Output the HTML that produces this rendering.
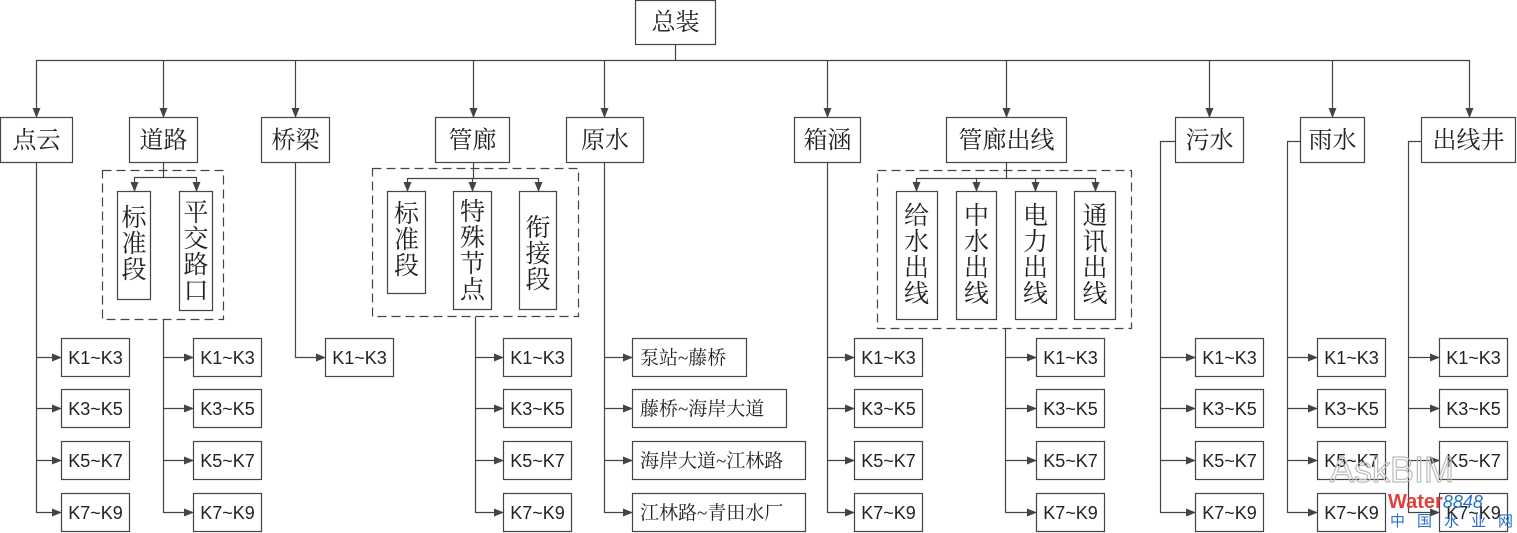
<!DOCTYPE html>
<html><head><meta charset="utf-8"><style>
html,body{margin:0;padding:0;background:#fff;}
svg{display:block;}
text{font-family:"Liberation Serif","Noto Serif CJK SC","Noto Sans CJK SC",serif;fill:#222;}
.k text{font-family:"Liberation Sans","Noto Sans CJK SC",sans-serif;font-size:18px;}
.t{font-size:24px;}
.v{font-size:25px;}
.r{font-size:19px;}
</style></head><body>
<svg width="1517" height="533" viewBox="0 0 1517 533" xmlns="http://www.w3.org/2000/svg">
<defs><marker id="a" markerWidth="10" markerHeight="10" refX="9" refY="5" orient="auto" markerUnits="userSpaceOnUse"><path d="M0,1 L10,5 L0,9 Z" fill="#444"/></marker></defs>
<g stroke="#444" stroke-width="1.2" fill="none">
<rect x="635.5" y="0.5" width="80" height="44" fill="#fff"/>
<line x1="675.5" y1="45" x2="675.5" y2="60.5"/>
<line x1="36.5" y1="60.5" x2="1469.5" y2="60.5"/>
<g marker-end="url(#a)">
<line x1="36.5" y1="60" x2="36.5" y2="117"/>
<line x1="163.5" y1="60" x2="163.5" y2="117"/>
<line x1="295.5" y1="60" x2="295.5" y2="117"/>
<line x1="473.5" y1="60" x2="473.5" y2="117"/>
<line x1="604.5" y1="60" x2="604.5" y2="117"/>
<line x1="827.5" y1="60" x2="827.5" y2="117"/>
<line x1="1006.5" y1="60" x2="1006.5" y2="117"/>
<line x1="1209.5" y1="60" x2="1209.5" y2="117"/>
<line x1="1332.5" y1="60" x2="1332.5" y2="117"/>
<line x1="1469.5" y1="60" x2="1469.5" y2="117"/>
</g>
<rect x="0.5" y="117.5" width="72" height="45"/>
<rect x="129.5" y="117.5" width="68" height="45"/>
<rect x="261.5" y="117.5" width="68" height="45"/>
<rect x="435.5" y="117.5" width="74" height="45"/>
<rect x="566.5" y="117.5" width="77" height="45"/>
<rect x="794.5" y="117.5" width="66" height="45"/>
<rect x="946.5" y="117.5" width="120" height="45"/>
<rect x="1175.5" y="117.5" width="68" height="45"/>
<rect x="1300.5" y="117.5" width="64" height="45"/>
<rect x="1421.5" y="117.5" width="94" height="45"/>
<g stroke-dasharray="9,5">
<rect x="102.5" y="170.5" width="121" height="149"/>
<rect x="372.5" y="168.5" width="206" height="148"/>
<rect x="877.5" y="170.5" width="254" height="158"/>
</g>
<line x1="163.5" y1="163" x2="163.5" y2="177.5"/>
<line x1="134.5" y1="177.5" x2="196.5" y2="177.5"/>
<g marker-end="url(#a)"><line x1="134.5" y1="177" x2="134.5" y2="191"/><line x1="196.5" y1="177" x2="196.5" y2="191"/></g>
<rect x="117.5" y="191.5" width="33" height="108"/>
<rect x="179.5" y="191.5" width="33" height="119"/>
<line x1="473.5" y1="163" x2="473.5" y2="178.5"/>
<line x1="407.5" y1="178.5" x2="538.5" y2="178.5"/>
<g marker-end="url(#a)"><line x1="407.5" y1="178" x2="407.5" y2="191"/><line x1="472.5" y1="178" x2="472.5" y2="191"/><line x1="538.5" y1="178" x2="538.5" y2="191"/></g>
<rect x="387.5" y="191.5" width="38" height="102"/>
<rect x="453.5" y="191.5" width="38" height="118"/>
<rect x="519.5" y="191.5" width="37" height="118"/>
<line x1="1006.5" y1="163" x2="1006.5" y2="178.5"/>
<line x1="916.5" y1="178.5" x2="1095.5" y2="178.5"/>
<g marker-end="url(#a)"><line x1="916.5" y1="178" x2="916.5" y2="191"/><line x1="976.5" y1="178" x2="976.5" y2="191"/><line x1="1035.5" y1="178" x2="1035.5" y2="191"/><line x1="1095.5" y1="178" x2="1095.5" y2="191"/></g>
<rect x="896.5" y="191.5" width="41" height="128"/>
<rect x="956.5" y="191.5" width="40" height="128"/>
<rect x="1015.5" y="191.5" width="41" height="128"/>
<rect x="1074.5" y="191.5" width="41" height="128"/>
<line x1="36.5" y1="163" x2="36.5" y2="512.5"/>
<line x1="163.5" y1="320" x2="163.5" y2="512.5"/>
<line x1="295.5" y1="163" x2="295.5" y2="357.5"/>
<line x1="475.5" y1="317" x2="475.5" y2="512.5"/>
<line x1="604.5" y1="163" x2="604.5" y2="512.5"/>
<line x1="827.5" y1="163" x2="827.5" y2="512.5"/>
<line x1="1005.5" y1="329" x2="1005.5" y2="512.5"/>
<polyline points="1175,141.5 1160.5,141.5 1160.5,512.5"/>
<polyline points="1300,141.5 1287.5,141.5 1287.5,512.5"/>
<polyline points="1421,141.5 1408.5,141.5 1408.5,512.5"/>
<g marker-end="url(#a)">
<line x1="36" y1="357.5" x2="61" y2="357.5"/><line x1="36" y1="408.5" x2="61" y2="408.5"/><line x1="36" y1="460.5" x2="61" y2="460.5"/><line x1="36" y1="512.5" x2="61" y2="512.5"/>
<line x1="163" y1="357.5" x2="193" y2="357.5"/><line x1="163" y1="408.5" x2="193" y2="408.5"/><line x1="163" y1="460.5" x2="193" y2="460.5"/><line x1="163" y1="512.5" x2="193" y2="512.5"/>
<line x1="295" y1="357.5" x2="325" y2="357.5"/>
<line x1="475" y1="357.5" x2="503" y2="357.5"/><line x1="475" y1="408.5" x2="503" y2="408.5"/><line x1="475" y1="460.5" x2="503" y2="460.5"/><line x1="475" y1="512.5" x2="503" y2="512.5"/>
<line x1="604" y1="357.5" x2="632" y2="357.5"/><line x1="604" y1="408.5" x2="632" y2="408.5"/><line x1="604" y1="460.5" x2="632" y2="460.5"/><line x1="604" y1="512.5" x2="632" y2="512.5"/>
<line x1="827" y1="357.5" x2="854" y2="357.5"/><line x1="827" y1="408.5" x2="854" y2="408.5"/><line x1="827" y1="460.5" x2="854" y2="460.5"/><line x1="827" y1="512.5" x2="854" y2="512.5"/>
<line x1="1005" y1="357.5" x2="1036" y2="357.5"/><line x1="1005" y1="408.5" x2="1036" y2="408.5"/><line x1="1005" y1="460.5" x2="1036" y2="460.5"/><line x1="1005" y1="512.5" x2="1036" y2="512.5"/>
<line x1="1160" y1="357.5" x2="1195" y2="357.5"/><line x1="1160" y1="408.5" x2="1195" y2="408.5"/><line x1="1160" y1="460.5" x2="1195" y2="460.5"/><line x1="1160" y1="512.5" x2="1195" y2="512.5"/>
<line x1="1287" y1="357.5" x2="1317" y2="357.5"/><line x1="1287" y1="408.5" x2="1317" y2="408.5"/><line x1="1287" y1="460.5" x2="1317" y2="460.5"/><line x1="1287" y1="512.5" x2="1317" y2="512.5"/>
<line x1="1408" y1="357.5" x2="1439" y2="357.5"/><line x1="1408" y1="408.5" x2="1439" y2="408.5"/><line x1="1408" y1="460.5" x2="1439" y2="460.5"/><line x1="1408" y1="512.5" x2="1439" y2="512.5"/>
</g>
<g>
<rect x="61.5" y="338.5" width="68" height="38"/><rect x="61.5" y="389.5" width="68" height="38"/><rect x="61.5" y="441.5" width="68" height="38"/><rect x="61.5" y="493.5" width="68" height="38"/>
<rect x="193.5" y="338.5" width="68" height="38"/><rect x="193.5" y="389.5" width="68" height="38"/><rect x="193.5" y="441.5" width="68" height="38"/><rect x="193.5" y="493.5" width="68" height="38"/>
<rect x="325.5" y="338.5" width="68" height="38"/>
<rect x="503.5" y="338.5" width="68" height="38"/><rect x="503.5" y="389.5" width="68" height="38"/><rect x="503.5" y="441.5" width="68" height="38"/><rect x="503.5" y="493.5" width="68" height="38"/>
<rect x="632.5" y="338.5" width="114" height="38"/><rect x="632.5" y="389.5" width="154" height="38"/><rect x="632.5" y="441.5" width="173" height="38"/><rect x="632.5" y="493.5" width="173" height="38"/>
<rect x="854.5" y="338.5" width="68" height="38"/><rect x="854.5" y="389.5" width="68" height="38"/><rect x="854.5" y="441.5" width="68" height="38"/><rect x="854.5" y="493.5" width="68" height="38"/>
<rect x="1036.5" y="338.5" width="68" height="38"/><rect x="1036.5" y="389.5" width="68" height="38"/><rect x="1036.5" y="441.5" width="68" height="38"/><rect x="1036.5" y="493.5" width="68" height="38"/>
<rect x="1195.5" y="338.5" width="68" height="38"/><rect x="1195.5" y="389.5" width="68" height="38"/><rect x="1195.5" y="441.5" width="68" height="38"/><rect x="1195.5" y="493.5" width="68" height="38"/>
<rect x="1317.5" y="338.5" width="68" height="38"/><rect x="1317.5" y="389.5" width="68" height="38"/><rect x="1317.5" y="441.5" width="68" height="38"/><rect x="1317.5" y="493.5" width="68" height="38"/>
<rect x="1439.5" y="338.5" width="68" height="38"/><rect x="1439.5" y="389.5" width="68" height="38"/><rect x="1439.5" y="441.5" width="68" height="38"/><rect x="1439.5" y="493.5" width="68" height="38"/>
</g>
</g>
<g text-anchor="middle">
<text class="t" x="675.5" y="30">总装</text>
<text class="t" x="36.5" y="148">点云</text>
<text class="t" x="163.5" y="148">道路</text>
<text class="t" x="295.5" y="148">桥梁</text>
<text class="t" x="472.5" y="148">管廊</text>
<text class="t" x="605" y="148">原水</text>
<text class="t" x="827.5" y="148">箱涵</text>
<text class="t" x="1006.5" y="148">管廊出线</text>
<text class="t" x="1209.5" y="148">污水</text>
<text class="t" x="1332.5" y="148">雨水</text>
<text class="t" x="1468.5" y="148">出线井</text>
<g class="v">
<text x="134" y="226">标</text><text x="134" y="252">准</text><text x="134" y="278">段</text>
<text x="196" y="221">平</text><text x="196" y="247">交</text><text x="196" y="273">路</text><text x="196" y="299">口</text>
<text x="406.5" y="222">标</text><text x="406.5" y="248">准</text><text x="406.5" y="274">段</text>
<text x="472.5" y="220">特</text><text x="472.5" y="246">殊</text><text x="472.5" y="272">节</text><text x="472.5" y="298">点</text>
<text x="538" y="236">衔</text><text x="538" y="262">接</text><text x="538" y="288">段</text>
<text x="916.5" y="224">给</text><text x="916.5" y="250">水</text><text x="916.5" y="276">出</text><text x="916.5" y="302">线</text>
<text x="976.5" y="224">中</text><text x="976.5" y="250">水</text><text x="976.5" y="276">出</text><text x="976.5" y="302">线</text>
<text x="1035.5" y="224">电</text><text x="1035.5" y="250">力</text><text x="1035.5" y="276">出</text><text x="1035.5" y="302">线</text>
<text x="1095" y="224">通</text><text x="1095" y="250">讯</text><text x="1095" y="276">出</text><text x="1095" y="302">线</text>
</g>
</g>
<g class="k" text-anchor="middle">
<text x="95.5" y="364">K1~K3</text><text x="95.5" y="415">K3~K5</text><text x="95.5" y="467">K5~K7</text><text x="95.5" y="519">K7~K9</text>
<text x="227.5" y="364">K1~K3</text><text x="227.5" y="415">K3~K5</text><text x="227.5" y="467">K5~K7</text><text x="227.5" y="519">K7~K9</text>
<text x="359.5" y="364">K1~K3</text>
<text x="537.5" y="364">K1~K3</text><text x="537.5" y="415">K3~K5</text><text x="537.5" y="467">K5~K7</text><text x="537.5" y="519">K7~K9</text>
<text x="888.5" y="364">K1~K3</text><text x="888.5" y="415">K3~K5</text><text x="888.5" y="467">K5~K7</text><text x="888.5" y="519">K7~K9</text>
<text x="1070.5" y="364">K1~K3</text><text x="1070.5" y="415">K3~K5</text><text x="1070.5" y="467">K5~K7</text><text x="1070.5" y="519">K7~K9</text>
<text x="1229.5" y="364">K1~K3</text><text x="1229.5" y="415">K3~K5</text><text x="1229.5" y="467">K5~K7</text><text x="1229.5" y="519">K7~K9</text>
<text x="1351.5" y="364">K1~K3</text><text x="1351.5" y="415">K3~K5</text><text x="1351.5" y="467">K5~K7</text><text x="1351.5" y="519">K7~K9</text>
<text x="1473.5" y="364">K1~K3</text><text x="1473.5" y="415">K3~K5</text><text x="1473.5" y="467">K5~K7</text><text x="1473.5" y="519">K7~K9</text>
</g>
<g class="r">
<text x="640" y="364">泵站~藤桥</text>
<text x="640" y="415">藤桥~海岸大道</text>
<text x="640" y="467">海岸大道~江林路</text>
<text x="640" y="519">江林路~青田水厂</text>
</g>
<text x="1330" y="482" style="font-family:'Liberation Sans',sans-serif;font-size:36px;fill:none;stroke:#bbb;stroke-width:1.2">AskBIM</text>
<text x="1388" y="508" style="font-family:'Liberation Sans',sans-serif;font-size:20px;font-weight:bold;fill:#e0403a">Water<tspan style="fill:#2a6fc9;font-style:italic;font-weight:normal;font-size:18px">8848</tspan></text>
<text x="1390" y="526" style="font-family:'Noto Sans CJK SC',sans-serif;font-size:15px;fill:#2a6fc9;letter-spacing:12px">中国水业网</text>
</svg>
</body></html>
